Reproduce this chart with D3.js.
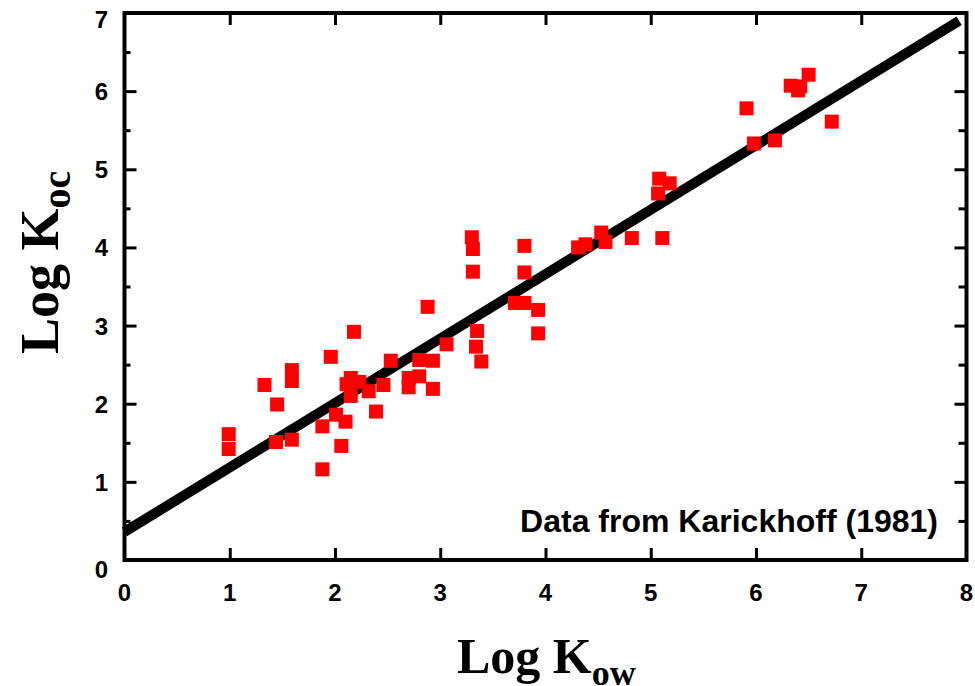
<!DOCTYPE html>
<html>
<head>
<meta charset="utf-8">
<script src="https://cdn.jsdelivr.net/npm/d3@7"></script>
<style>
  body { margin: 0; background: #fff; }
  .tick-label { font-family: "Liberation Sans", Arial, sans-serif; font-weight: bold; font-size: 24px; }
  .title { font-family: "Liberation Serif", "Times New Roman", serif; font-weight: bold; font-size: 50px; }
</style>
</head>
<body>
<svg id="chart" width="975" height="686"></svg>
<script>
// measured points (log Kow, log Koc)
var logKow = [0.99, 0.99, 1.33, 1.45, 1.44, 1.59, 1.59, 1.59, 1.96, 1.88, 1.88, 2.01, 2.10, 2.06,
    2.18, 2.15, 2.11, 2.23, 2.15, 2.32, 2.46, 2.39, 2.53, 2.70, 2.70, 2.80, 2.80, 2.88, 2.93, 2.93,
    3.06, 3.30, 3.31, 3.31, 3.35, 3.34, 3.39, 3.71, 3.80, 3.80, 3.80, 3.93, 3.93, 4.31, 4.38, 4.53,
    4.57, 4.82, 5.11, 5.08, 5.18, 5.07, 5.91, 5.98, 6.18, 6.33, 6.40, 6.42, 6.50, 6.72];
var logKoc = [1.61, 1.42, 2.24, 1.99, 1.51, 2.43, 2.29, 1.54, 2.60, 1.71, 1.16, 1.86, 1.77, 1.46,
    2.92, 2.33, 2.25, 2.28, 2.10, 2.16, 2.24, 1.90, 2.55, 2.33, 2.21, 2.56, 2.35, 3.24, 2.55, 2.19,
    2.76, 4.13, 3.98, 3.69, 2.93, 2.73, 2.54, 3.29, 3.29, 4.02, 3.68, 3.20, 2.90, 4.00, 4.04, 4.19,
    4.07, 4.12, 4.12, 4.88, 4.82, 4.69, 5.78, 5.33, 5.37, 6.07, 6.01, 6.06, 6.21, 5.61];

// regression line end points
var fitX = [0, 7.93];
var fitY = [0.36, 6.90];

var xTicks = [0, 1, 2, 3, 4, 5, 6, 7, 8];
var yTicks = [0, 1, 2, 3, 4, 5, 6, 7];
var yMinorTicks = [0.5, 1.5, 2.5, 3.5, 4.5, 5.5, 6.5];

var svg = d3.select("#chart");

var pLeft = 124.5, pRight = 966.5, pTop = 13, pBottom = 560;

var x = d3.scaleLinear().domain([0, 8]).range([pLeft, pRight]);
var y = d3.scaleLinear().domain([0, 7]).range([pBottom, pTop]);

// fit line
var line = d3.line()
    .x(function(d) { return x(d[0]); })
    .y(function(d) { return y(d[1]); });

svg.append("path")
    .datum(d3.zip(fitX, fitY))
    .attr("d", line)
    .attr("fill", "none")
    .attr("stroke", "#000")
    .attr("stroke-width", 10);

// points
var sz = 14;
svg.selectAll("rect.pt")
    .data(d3.zip(logKow, logKoc))
    .enter()
    .append("rect")
    .attr("class", "pt")
    .attr("x", function(d) { return x(d[0]) - sz / 2; })
    .attr("y", function(d) { return y(d[1]) - sz / 2; })
    .attr("width", sz)
    .attr("height", sz)
    .attr("fill", "#ff0000");

// axes - ticks pointing inward, labels placed separately
function styleAxis(g) {
    g.select(".domain").remove();
    g.selectAll(".tick line").attr("stroke", "#000").attr("stroke-width", 3);
    g.selectAll(".tick text").remove();
}

svg.append("g")
    .attr("transform", "translate(0," + pBottom + ")")
    .call(d3.axisBottom(x).tickValues(xTicks.slice(1, -1)).tickSize(-12))
    .call(styleAxis);
svg.append("g")
    .attr("transform", "translate(0," + pTop + ")")
    .call(d3.axisTop(x).tickValues(xTicks.slice(1, -1)).tickSize(-12))
    .call(styleAxis);
svg.append("g")
    .attr("transform", "translate(" + pLeft + ",0)")
    .call(d3.axisLeft(y).tickValues(yTicks.slice(1, -1)).tickSize(-12))
    .call(styleAxis);
svg.append("g")
    .attr("transform", "translate(" + pLeft + ",0)")
    .call(d3.axisLeft(y).tickValues(yMinorTicks).tickSize(-6))
    .call(styleAxis);
svg.append("g")
    .attr("transform", "translate(" + pRight + ",0)")
    .call(d3.axisRight(y).tickValues(yTicks.slice(1, -1)).tickSize(-12))
    .call(styleAxis);
svg.append("g")
    .attr("transform", "translate(" + pRight + ",0)")
    .call(d3.axisRight(y).tickValues(yMinorTicks).tickSize(-8))
    .call(styleAxis);

// frame
svg.append("rect")
    .attr("x", pLeft).attr("y", pTop)
    .attr("width", pRight - pLeft).attr("height", pBottom - pTop)
    .attr("fill", "none")
    .attr("stroke", "#000")
    .attr("stroke-width", 4);

// tick labels
svg.selectAll("text.xl")
    .data(xTicks)
    .enter()
    .append("text")
    .attr("class", "tick-label")
    .attr("x", function(d) { return x(d); })
    .attr("y", 601)
    .attr("text-anchor", "middle")
    .text(function(d) { return d; });

// end labels on the y axis sit a little lower in the original
svg.selectAll("text.yl")
    .data(yTicks)
    .enter()
    .append("text")
    .attr("class", "tick-label")
    .attr("x", 108)
    .attr("y", function(d) {
        var off = (d === 0) ? 18 : (d === 7) ? 15 : 9;
        return y(d) + off;
    })
    .attr("text-anchor", "end")
    .text(function(d) { return d; });

// annotation
svg.append("text")
    .attr("class", "tick-label")
    .attr("x", 938)
    .attr("y", 532)
    .attr("text-anchor", "end")
    .style("font-size", "32px")
    .text("Data from Karickhoff (1981)");

// axis titles
var xt = svg.append("text")
    .attr("class", "title")
    .attr("x", 457)
    .attr("y", 673);
xt.append("tspan").text("Log K");
xt.append("tspan").attr("dy", 12).style("font-size", "36px").text("ow");

var yt = svg.append("text")
    .attr("class", "title")
    .style("font-size", "54px")
    .attr("transform", "translate(58,354) rotate(-90)");
yt.append("tspan").text("Log K");
yt.append("tspan").attr("dy", 12).style("font-size", "40px").text("oc");
</script>
</body>
</html>
